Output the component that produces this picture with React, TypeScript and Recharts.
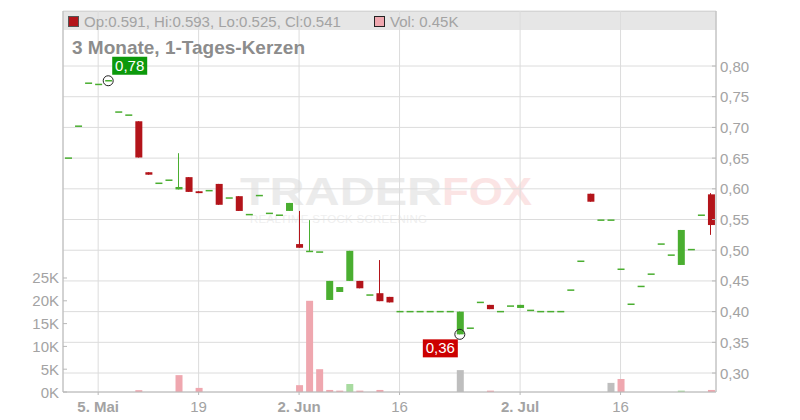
import React from "react";
import { ComposedChart, Bar, Cell, XAxis, YAxis, CartesianGrid, ReferenceDot } from "recharts";

const FONT = '"Liberation Sans", Arial, sans-serif';
const RED = "#b3141a";
const GREEN = "#4aae30";
const TEXT = "#a3a3a3";
const GRID = "#dcdcdc";
const AXIS = "#b8b8b8";
const VOL_COLORS: Record<string, string> = { d: "#efa7af", u: "#a8dba0", f: "#bebebe" };

// trading days (dd.mm)
const dates = [
  "29.04", "30.04", "02.05", "05.05", "06.05", "07.05", "08.05", "09.05", "12.05", "13.05",
  "14.05", "15.05", "16.05", "19.05", "20.05", "21.05", "22.05", "23.05", "26.05", "27.05",
  "28.05", "29.05", "30.05", "02.06", "03.06", "04.06", "05.06", "06.06", "09.06", "10.06",
  "11.06", "12.06", "13.06", "16.06", "17.06", "18.06", "19.06", "20.06", "23.06", "24.06",
  "25.06", "26.06", "27.06", "30.06", "01.07", "02.07", "03.07", "04.07", "07.07", "08.07",
  "09.07", "10.07", "11.07", "14.07", "15.07", "16.07", "17.07", "18.07", "21.07", "22.07",
  "23.07", "24.07", "25.07", "28.07", "29.07",
];

const opens = [
  0.650, 0.702, 0.772, 0.770, 0.776, 0.725, 0.720, 0.710, 0.627, 0.609,
  0.614, 0.599, 0.619, 0.596, 0.597, 0.608, 0.585, 0.588, 0.558, 0.589,
  0.560, 0.557, 0.564, 0.510, 0.498, 0.497, 0.419, 0.432, 0.450, 0.450,
  0.427, 0.430, 0.424, 0.400, 0.400, 0.400, 0.400, 0.400, 0.400, 0.363,
  0.373, 0.415, 0.411, 0.400, 0.409, 0.406, 0.402, 0.400, 0.400, 0.400,
  0.435, 0.482, 0.592, 0.549, 0.549, 0.469, 0.412, 0.441, 0.461, 0.510,
  0.492, 0.476, 0.501, 0.557, 0.591,
];
const highs = [
  0.650, 0.702, 0.772, 0.770, 0.776, 0.725, 0.720, 0.710, 0.627, 0.609,
  0.614, 0.658, 0.619, 0.596, 0.597, 0.608, 0.585, 0.588, 0.558, 0.589,
  0.560, 0.557, 0.577, 0.564, 0.549, 0.497, 0.450, 0.440, 0.499, 0.450,
  0.427, 0.484, 0.424, 0.400, 0.400, 0.400, 0.400, 0.400, 0.400, 0.400,
  0.373, 0.415, 0.411, 0.400, 0.409, 0.411, 0.402, 0.400, 0.400, 0.400,
  0.435, 0.482, 0.592, 0.549, 0.549, 0.469, 0.412, 0.441, 0.461, 0.510,
  0.492, 0.533, 0.501, 0.557, 0.593,
];
const lows = [
  0.650, 0.702, 0.772, 0.770, 0.776, 0.725, 0.720, 0.651, 0.623, 0.609,
  0.614, 0.599, 0.595, 0.593, 0.597, 0.574, 0.585, 0.564, 0.558, 0.589,
  0.560, 0.557, 0.564, 0.504, 0.498, 0.497, 0.419, 0.432, 0.450, 0.438,
  0.427, 0.417, 0.415, 0.400, 0.400, 0.400, 0.400, 0.400, 0.400, 0.363,
  0.373, 0.415, 0.404, 0.400, 0.409, 0.406, 0.402, 0.400, 0.400, 0.400,
  0.435, 0.482, 0.579, 0.549, 0.549, 0.469, 0.412, 0.441, 0.461, 0.510,
  0.492, 0.476, 0.501, 0.557, 0.525,
];
const closes = [
  0.650, 0.702, 0.772, 0.770, 0.776, 0.725, 0.720, 0.651, 0.623, 0.609,
  0.614, 0.603, 0.595, 0.593, 0.597, 0.574, 0.585, 0.564, 0.558, 0.589,
  0.560, 0.557, 0.577, 0.504, 0.498, 0.497, 0.450, 0.440, 0.499, 0.438,
  0.427, 0.417, 0.415, 0.400, 0.400, 0.400, 0.400, 0.400, 0.400, 0.400,
  0.373, 0.415, 0.404, 0.400, 0.409, 0.411, 0.402, 0.400, 0.400, 0.400,
  0.435, 0.482, 0.579, 0.549, 0.549, 0.469, 0.412, 0.441, 0.461, 0.510,
  0.492, 0.533, 0.501, 0.557, 0.541,
];

// volume in thousands, only days that traded; tone d=down u=up f=flat
const volDates = ["09.05", "15.05", "19.05", "02.06", "03.06", "04.06", "05.06", "06.06", "09.06", "10.06", "12.06", "24.06", "27.06", "15.07", "16.07", "24.07", "29.07"];
const volK = [0.4, 3.7, 0.9, 1.5, 20.0, 5.0, 0.45, 0.3, 1.75, 0.3, 0.45, 4.8, 0.3, 2.0, 2.85, 0.3, 0.45];
const volTone = ["d", "d", "d", "d", "d", "d", "d", "d", "u", "d", "d", "f", "d", "f", "d", "u", "d"];

const priceTicks = [0.3, 0.35, 0.4, 0.45, 0.5, 0.55, 0.6, 0.65, 0.7, 0.75, 0.8];
const volTicks = [0, 5, 10, 15, 20, 25];
const dateTicks = ["05.05", "19.05", "02.06", "16.06", "02.07", "16.07"];
const dateTickLabels = ["5. Mai", "19", "2. Jun", "16", "2. Jul", "16"];

const rows = dates.map((date, i) => {
  const v = volDates.indexOf(date);
  return {
    date,
    open: opens[i],
    high: highs[i],
    low: lows[i],
    close: closes[i],
    range: [lows[i], highs[i]],
    volume: v >= 0 ? volK[v] : 0,
    tone: v >= 0 ? volTone[v] : "d",
  };
});

const hiIdx = highs.indexOf(Math.max(...highs));
const loIdx = lows.indexOf(Math.min(...lows));
const last = rows.length - 1;
const comma = (v: number) => v.toFixed(2).replace(".", ",");

function Candle(props: any) {
  const { x, y, width, height, payload } = props;
  const { open, high, low, close } = payload;
  const color = close >= open ? GREEN : RED;
  const span = high - low;
  const py = (v: number) => (span > 0 ? y + ((high - v) / span) * height : y);
  const top = py(Math.max(open, close));
  const bot = py(Math.min(open, close));
  const h = Math.max(bot - top, 1.5);
  const cx = Math.round(x + width / 2) - 0.5;
  return (
    <g>
      {span > 0 && <line x1={cx} x2={cx} y1={y} y2={y + height} stroke={color} strokeWidth={1} />}
      <rect x={x} y={top - (h - (bot - top)) / 2} width={width} height={h} fill={color} />
    </g>
  );
}

function Marker(props: any) {
  const { cx, cy, text, hi } = props;
  const bx = hi ? cx + 4 : cx - 37;
  const by = hi ? cy - 24 : cy + 5;
  return (
    <g>
      <circle cx={cx} cy={cy} r={5} fill="none" stroke="#222" strokeWidth={1} />
      <rect x={bx} y={by} width={35} height={18} fill={hi ? "#0c990c" : "#cc0000"} />
      <text x={bx + 17.5} y={by + 14} textAnchor="middle" fill="#fff" fontSize={15} fontFamily={FONT}>
        {text}
      </text>
    </g>
  );
}

function PriceTick(props: any) {
  const { x, y, payload } = props;
  return (
    <g>
      <line x1={x - 8} x2={x - 4} y1={y} y2={y} stroke={AXIS} />
      <text x={x} y={y + 5.5} fill={TEXT} fontSize={15} fontFamily={FONT}>
        {payload.value.toFixed(2).replace(".", ",")}
      </text>
    </g>
  );
}

function VolTick(props: any) {
  const { x, y, payload } = props;
  return (
    <g>
      <line x1={x + 4} x2={x + 8} y1={y} y2={y} stroke={AXIS} />
      <text x={x} y={y + 5.5} textAnchor="end" fill={TEXT} fontSize={15} fontFamily={FONT}>
        {payload.value + "K"}
      </text>
    </g>
  );
}

function DateTick(props: any) {
  const { x, y, payload } = props;
  const label = dateTickLabels[dateTicks.indexOf(payload.value)];
  return (
    <text x={x} y={y + 15} textAnchor="middle" fill={TEXT} fontSize={15} fontFamily={FONT} fontWeight={label.includes(".") ? "bold" : "normal"}>
      {label}
    </text>
  );
}

export default function App() {
  return (
    <div style={{ position: "absolute", left: 0, top: 0, width: 800, height: 420, background: "#fff" }}>
      {/* background: header band and watermark */}
      <svg width={800} height={420} style={{ position: "absolute", left: 0, top: 0 }}>
        <rect x={63} y={11} width={653} height={19} fill="#e6e6e6" />
        <line x1={63} x2={716} y1={11.5} y2={11.5} stroke="#cfcfcf" />
        <text x={240} y={205} fontSize={39} fontWeight="bold" fontFamily={FONT} fill="#ebebeb" textLength={202} lengthAdjust="spacingAndGlyphs">
          TRADER
        </text>
        <text x={442} y={205} fontSize={39} fontWeight="bold" fontFamily={FONT} fill="#fbe4e4" textLength={90} lengthAdjust="spacingAndGlyphs">
          FOX
        </text>
        <text x={250} y={223} fontSize={11.5} fontFamily={FONT} fill="#efefef" textLength={177} lengthAdjust="spacing">
          REALTIME STOCK SCREENING
        </text>
      </svg>
      <div style={{ position: "absolute", left: 0, top: 0 }}>
        <ComposedChart width={800} height={420} data={rows} margin={{ top: 11, right: 0, bottom: 0, left: 0 }}>
          <CartesianGrid xAxisId="main" yAxisId="price" stroke={GRID} />
          <XAxis
            xAxisId="main"
            dataKey="date"
            ticks={dateTicks}
            interval={0}
            height={28}
            tickSize={3}
            tickMargin={2}
            tickLine={{ stroke: AXIS }}
            axisLine={{ stroke: AXIS }}
            tick={DateTick}
          />
          <XAxis xAxisId="vol" dataKey="date" hide />
          <YAxis
            yAxisId="price"
            orientation="right"
            domain={[0.2691, 0.8896]}
            ticks={priceTicks}
            interval={0}
            allowDataOverflow
            width={84}
            tickSize={0}
            tickMargin={4}
            axisLine={{ stroke: AXIS }}
            tick={PriceTick}
          />
          <YAxis
            yAxisId="vol"
            orientation="left"
            domain={[0, 83.55]}
            ticks={volTicks}
            interval={0}
            allowDataOverflow
            width={63}
            tickSize={0}
            tickMargin={4}
            axisLine={{ stroke: AXIS }}
            tick={VolTick}
          />
          <Bar xAxisId="vol" yAxisId="vol" dataKey="volume" barSize={7} isAnimationActive={false}>
            {rows.map((r, i) => (
              <Cell key={i} fill={VOL_COLORS[r.tone]} />
            ))}
          </Bar>
          <Bar xAxisId="main" yAxisId="price" dataKey="range" barSize={7} shape={Candle} isAnimationActive={false} />
          <ReferenceDot
            xAxisId="main"
            yAxisId="price"
            x={dates[hiIdx]}
            y={highs[hiIdx]}
            r={5}
            shape={(p: any) => <Marker {...p} hi text={comma(highs[hiIdx])} />}
          />
          <ReferenceDot
            xAxisId="main"
            yAxisId="price"
            x={dates[loIdx]}
            y={lows[loIdx]}
            r={5}
            shape={(p: any) => <Marker {...p} text={comma(lows[loIdx])} />}
          />
        </ComposedChart>
      </div>
      {/* header texts */}
      <svg width={800} height={420} style={{ position: "absolute", left: 0, top: 0, pointerEvents: "none" }}>
        <rect x={68.5} y={16.5} width={10} height={10} fill={RED} stroke="#555" />
        <text x={84} y={26.7} fontSize={15} fontFamily={FONT} fill={TEXT}>
          {`Op:${opens[last].toFixed(3)}, Hi:${highs[last].toFixed(3)}, Lo:${lows[last].toFixed(3)}, Cl:${closes[last].toFixed(3)}`}
        </text>
        <rect x={374.5} y={16.5} width={10} height={10} fill={VOL_COLORS.d} stroke="#222" />
        <text x={390} y={26.7} fontSize={15} fontFamily={FONT} fill={TEXT}>
          {`Vol: ${rows[last].volume.toFixed(2)}K`}
        </text>
        <text x={72} y={54.3} fontSize={19} fontWeight="bold" fontFamily={FONT} fill="#8c8c8c">
          3 Monate, 1-Tages-Kerzen
        </text>
      </svg>
    </div>
  );
}
